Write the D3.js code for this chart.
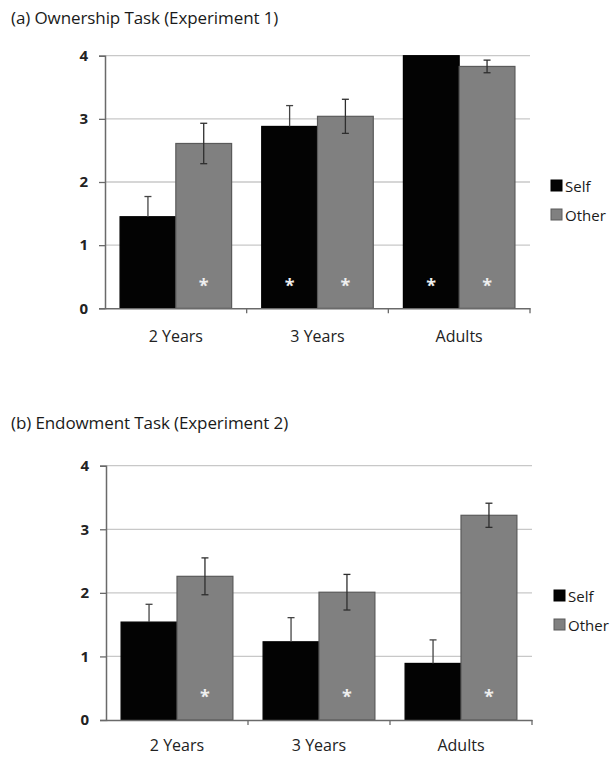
<!DOCTYPE html>
<html>
<head>
<meta charset="utf-8">
<script src="https://cdn.jsdelivr.net/npm/d3@7/dist/d3.min.js"></script>
<style>
  html, body { margin: 0; padding: 0; background: #fff; }
  svg { display: block; }
  text { font-family: "Open Sans", "Noto Sans", sans-serif; fill: #1a1a1a; }
</style>
</head>
<body>
<svg id="chart" width="610" height="759"></svg>
<script>
// ---- data ----
const categories = ["2 Years", "3 Years", "Adults"];
const seriesNames = ["Self", "Other"];
const yTicks = [0, 1, 2, 3, 4];

const ownershipTitle = "(a) Ownership Task (Experiment 1)";
const ownershipSelf = [1.45, 2.88, 4.0];
const ownershipSelfErr = [0.32, 0.33, 0.0];
const ownershipOther = [2.61, 3.04, 3.83];
const ownershipOtherErr = [0.32, 0.27, 0.10];
const ownershipSigSelf = [false, true, true];
const ownershipSigOther = [true, true, true];

const endowmentTitle = "(b) Endowment Task (Experiment 2)";
const endowmentSelf = [1.54, 1.23, 0.89];
const endowmentSelfErr = [0.28, 0.38, 0.37];
const endowmentOther = [2.26, 2.01, 3.22];
const endowmentOtherErr = [0.29, 0.28, 0.19];
const endowmentSigSelf = [false, false, false];
const endowmentSigOther = [true, true, true];

// ---- drawing ----
const svg = d3.select("#chart");
const colors = { Self: "#030303", Other: "#808080" };
const strokes = { Self: "#000", Other: "#5a5a5a" };
const axisColor = "#6a6a6a";

function panel(opt) {
  const g = svg.append("g");
  const x = d3.scaleBand().domain(categories).range([opt.left, opt.right]);
  const xi = d3.scaleBand().domain(seriesNames)
    .range([0, x.bandwidth()]).paddingOuter(0.27).paddingInner(0);
  const y = d3.scaleLinear().domain([0, 4]).range([opt.bottom, opt.top]);

  // title
  g.append("text").attr("x", 11).attr("y", opt.titleY)
    .attr("font-size", 17).attr("letter-spacing", -0.1).text(opt.title);

  // gridlines
  g.append("g").selectAll("line").data(yTicks.filter(t => t > 0)).join("line")
    .attr("x1", opt.left).attr("x2", opt.right)
    .attr("y1", d => y(d)).attr("y2", d => y(d))
    .attr("stroke", "#c8c8c8").attr("stroke-width", 1.3);

  const rows = categories.map((c, i) => [
    { cat: c, s: "Self", v: opt.self[i], e: opt.selfErr[i], sig: opt.sigSelf[i] },
    { cat: c, s: "Other", v: opt.other[i], e: opt.otherErr[i], sig: opt.sigOther[i] }
  ]).flat();

  // bars
  g.append("g").selectAll("rect").data(rows).join("rect")
    .attr("x", d => x(d.cat) + xi(d.s))
    .attr("width", xi.bandwidth())
    .attr("y", d => y(d.v))
    .attr("height", d => y(0) - y(d.v))
    .attr("fill", d => colors[d.s])
    .attr("stroke", d => strokes[d.s]).attr("stroke-width", 1.2);

  // error bars
  const cx = d => x(d.cat) + xi(d.s) + xi.bandwidth() / 2;
  const eb = g.append("g").selectAll("g").data(rows.filter(d => d.e > 0)).join("g")
    .attr("stroke", d => d.s === "Self" ? "#444" : "#2e2e2e").attr("stroke-width", 1.3);
  eb.append("line")
    .attr("x1", cx).attr("x2", cx)
    .attr("y1", d => d.s === "Self" ? y(d.v) : y(d.v - d.e))
    .attr("y2", d => y(d.v + d.e));
  eb.selectAll("line.cap").data(d => d.s === "Self"
      ? [{ d, val: d.v + d.e }]
      : [{ d, val: d.v + d.e }, { d, val: d.v - d.e }]).join("line")
    .attr("class", "cap")
    .attr("x1", o => cx(o.d) - 3.5).attr("x2", o => cx(o.d) + 3.5)
    .attr("y1", o => y(o.val)).attr("y2", o => y(o.val));

  // significance asterisks
  g.append("g").selectAll("text").data(rows.filter(d => d.sig)).join("text")
    .attr("x", cx)
    .attr("y", y(0.37) + 7)
    .attr("text-anchor", "middle")
    .attr("font-size", 18).attr("font-weight", "bold")
    .style("fill", "#eeeeee").text("*");

  // y axis
  const ya = g.append("g").attr("transform", `translate(${opt.left},0)`)
    .call(d3.axisLeft(y).tickValues(yTicks).tickFormat(d3.format("d")).tickSize(6).tickPadding(11));
  ya.select(".domain").attr("stroke", axisColor).attr("stroke-width", 1.5);
  ya.selectAll(".tick line").attr("stroke", axisColor).attr("stroke-width", 1.3);
  ya.selectAll(".tick text").attr("font-size", 15).attr("font-weight", "bold")
    .attr("font-family", "'Open Sans', sans-serif").style("fill", "#222");

  // x axis
  const xa = g.append("g").attr("transform", `translate(0,${y(0)})`)
    .call(d3.axisBottom(x).tickSize(0).tickPadding(opt.labelPad));
  xa.select(".domain").attr("stroke", axisColor).attr("stroke-width", 1.5);
  xa.selectAll(".tick text").attr("font-size", 16)
    .attr("font-family", "'Open Sans', sans-serif").style("fill", "#222");
  // category boundary ticks
  xa.append("g").selectAll("line").data(categories.slice(1).concat(["__end"])).join("line")
    .attr("x1", d => d === "__end" ? opt.right : x(d))
    .attr("x2", d => d === "__end" ? opt.right : x(d))
    .attr("y1", 0).attr("y2", 5)
    .attr("stroke", axisColor).attr("stroke-width", 1.3);

  // legend
  const lg = g.append("g").selectAll("g").data(seriesNames).join("g")
    .attr("transform", (d, i) => `translate(${opt.legendX},${opt.legendY + i * 29})`);
  lg.append("rect").attr("x", 0).attr("y", -11).attr("width", 11).attr("height", 11)
    .attr("fill", d => colors[d]).attr("stroke", d => strokes[d]);
  lg.append("text").attr("x", 14).attr("y", 1).attr("font-size", 15).text(d => d);
}

panel({
  title: ownershipTitle, titleY: 24,
  left: 105, right: 530, top: 55.7, bottom: 308.3, labelPad: 22,
  self: ownershipSelf, selfErr: ownershipSelfErr,
  other: ownershipOther, otherErr: ownershipOtherErr,
  sigSelf: ownershipSigSelf, sigOther: ownershipSigOther,
  legendX: 551, legendY: 191
});

panel({
  title: endowmentTitle, titleY: 429,
  left: 106, right: 532, top: 465.7, bottom: 720, labelPad: 20,
  self: endowmentSelf, selfErr: endowmentSelfErr,
  other: endowmentOther, otherErr: endowmentOtherErr,
  sigSelf: endowmentSigSelf, sigOther: endowmentSigOther,
  legendX: 554, legendY: 601
});
</script>
</body>
</html>
